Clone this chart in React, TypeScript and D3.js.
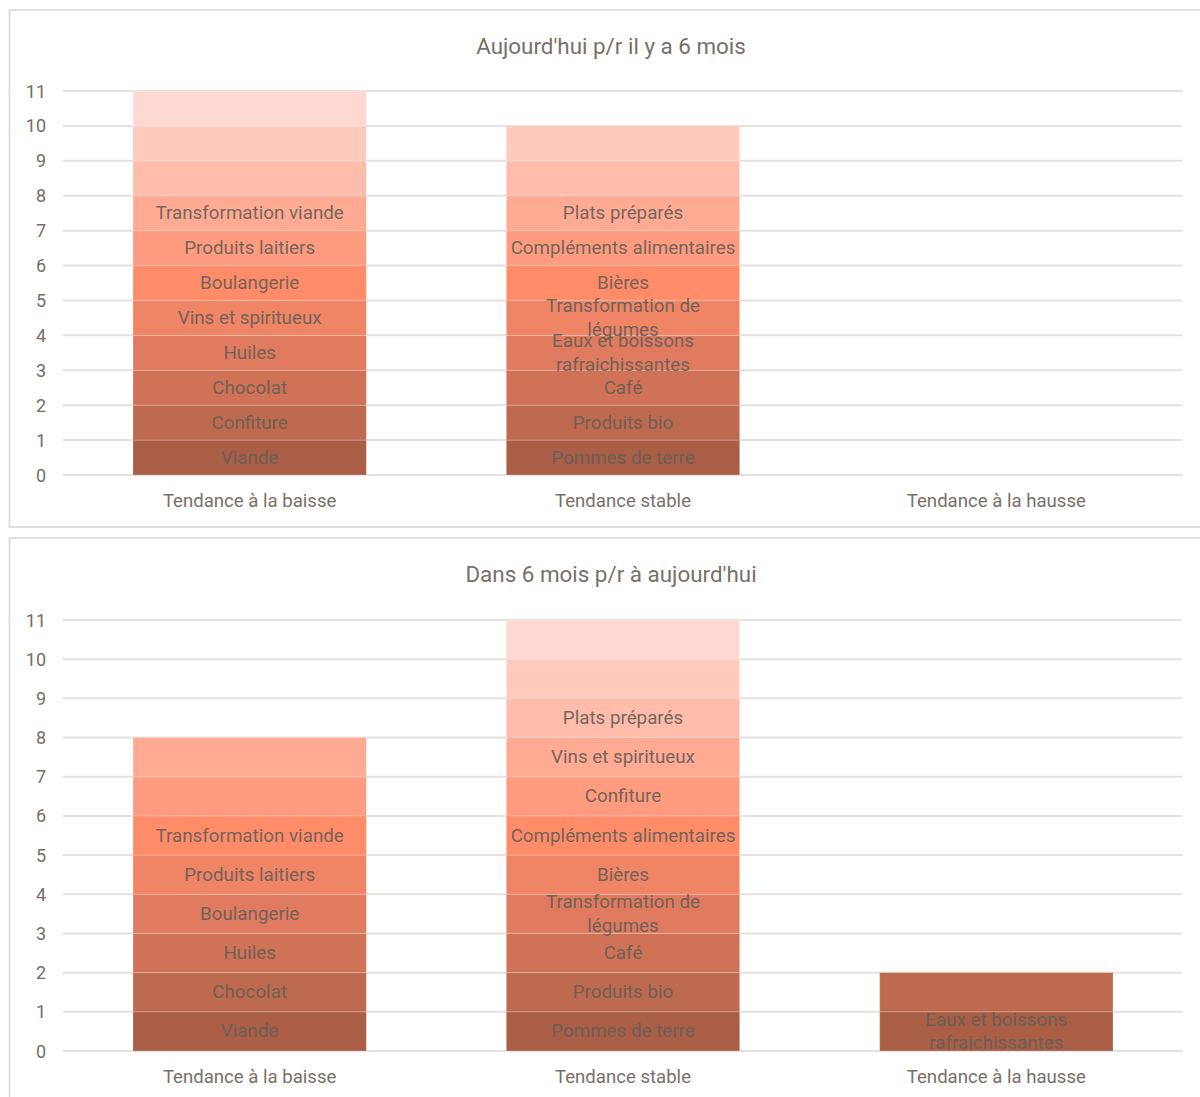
import React, { useEffect, useRef } from 'react';
import * as d3 from 'd3';

const WIDTH = 1200;
const HEIGHT = 1097;
const FONT = 'Roboto, "Noto Sans", sans-serif';

const categories = ['Tendance à la baisse', 'Tendance stable', 'Tendance à la hausse'];
const yTicks = [0, 1, 2, 3, 4, 5, 6, 7, 8, 9, 10, 11];

// each segment of a stack counts for 1; "" = segment without visible label
const nowBaisse = ['Viande', 'Confiture', 'Chocolat', 'Huiles', 'Vins et spiritueux', 'Boulangerie', 'Produits laitiers', 'Transformation viande', '', '', ''];
const nowStable = ['Pommes de terre', 'Produits bio', 'Café', 'Eaux et boissons rafraichissantes', 'Transformation de légumes', 'Bières', 'Compléments alimentaires', 'Plats préparés', '', ''];
const nowHausse: string[] = [];

const laterBaisse = ['Viande', 'Chocolat', 'Huiles', 'Boulangerie', 'Produits laitiers', 'Transformation viande', '', ''];
const laterStable = ['Pommes de terre', 'Produits bio', 'Café', 'Transformation de légumes', 'Bières', 'Compléments alimentaires', 'Confiture', 'Vins et spiritueux', 'Plats préparés', '', ''];
const laterHausse = ['Eaux et boissons rafraichissantes', ''];

const levelColors = [
  '#a95e45', '#be6a4e', '#d07256', '#e07b5f', '#ef8565', '#ff8c69',
  '#ff9b7e', '#ffab94', '#ffbcab', '#ffcbbf', '#ffd9d1',
];

const panels = [
  { title: "Aujourd'hui p/r il y a 6 mois", stacks: [nowBaisse, nowStable, nowHausse], top: 10, bottom: 527, y0: 475, y11: 91, titleY: 46, catY: 501 },
  { title: "Dans 6 mois p/r à aujourd'hui", stacks: [laterBaisse, laterStable, laterHausse], top: 538, bottom: 1120, y0: 1051, y11: 620, titleY: 574, catY: 1077 },
];

const LABEL_SIZE = 18.8;
const measureCtx = document.createElement('canvas').getContext('2d');

function wrap(text: string, maxWidth: number, font: string) {
  if (!measureCtx) return [text];
  measureCtx.font = font;
  const words = text.split(' ');
  const lines: string[] = [];
  let line = '';
  words.forEach(w => {
    const test = line ? line + ' ' + w : w;
    if (measureCtx.measureText(test).width > maxWidth && line) {
      lines.push(line);
      line = w;
    } else {
      line = test;
    }
  });
  if (line) lines.push(line);
  return lines;
}

const App = () => {
  const svgRef = useRef<SVGSVGElement | null>(null);

  useEffect(() => {
    if (!svgRef.current) return;
    const svg = d3.select(svgRef.current);
    svg.selectAll('*').remove();

    const x = d3.scaleBand<string>()
      .domain(categories)
      .range([63, 1183])
      .paddingInner(0.375)
      .paddingOuter(0.1875);

    const levelKeys = d3.range(levelColors.length).map(String);

    panels.forEach(p => {
      const g = svg.append('g');

      // panel frame
      g.append('rect')
        .attr('x', 9.5)
        .attr('y', p.top)
        .attr('width', 1230)
        .attr('height', p.bottom - p.top)
        .attr('fill', '#fff')
        .attr('stroke', '#e3dfdb')
        .attr('stroke-width', 2);

      g.append('text')
        .attr('x', 611)
        .attr('y', p.titleY)
        .attr('text-anchor', 'middle')
        .attr('dominant-baseline', 'central')
        .attr('fill', '#7a6f68')
        .attr('font-family', FONT)
        .attr('font-size', '22.4px')
        .text(p.title);

      const y = d3.scaleLinear().domain([0, 11]).range([p.y0, p.y11]);

      // grid
      g.selectAll('.grid')
        .data(yTicks)
        .enter()
        .append('line')
        .attr('x1', 63)
        .attr('x2', 1182)
        .attr('y1', d => y(d))
        .attr('y2', d => y(d))
        .attr('stroke', '#e6e1dd')
        .attr('stroke-width', 2);

      g.selectAll('.tick')
        .data(yTicks)
        .enter()
        .append('text')
        .attr('x', 46)
        .attr('y', d => y(d))
        .attr('text-anchor', 'end')
        .attr('dominant-baseline', 'central')
        .attr('fill', '#776d66')
        .attr('font-family', FONT)
        .attr('font-size', '18px')
        .text(d => d);

      // stacked data: one row per category, one key per level
      const rows = categories.map((c, i) => {
        const row: Record<string, number | string> = { cat: c };
        levelKeys.forEach((k, j) => { row[k] = j < p.stacks[i].length ? 1 : 0; });
        return row;
      });
      const series = d3.stack<Record<string, number | string>>().keys(levelKeys)(rows);

      const barGroup = g.append('g');
      const labelGroup = g.append('g');

      series.forEach((s, li) => {
        s.forEach((seg, ci) => {
          if (seg[1] - seg[0] <= 0) return;
          const cat = categories[ci];
          const bx = x(cat) || 0;
          const bw = x.bandwidth();
          barGroup.append('rect')
            .attr('x', bx)
            .attr('y', y(seg[1]))
            .attr('width', bw)
            .attr('height', y(seg[0]) - y(seg[1]))
            .attr('fill', levelColors[li])
            .attr('stroke', 'rgba(255,255,255,0.22)')
            .attr('stroke-width', 1);

          const label = p.stacks[ci][li];
          if (!label) return;
          const lines = wrap(label, bw - 7, `${LABEL_SIZE}px ${FONT}`);
          const cy = (y(seg[0]) + y(seg[1])) / 2;
          const lh = 23.5;
          const t = labelGroup.append('text')
            .attr('text-anchor', 'middle')
            .attr('fill', '#665e58')
            .attr('fill-opacity', 0.92)
            .attr('font-family', FONT)
            .attr('font-size', `${LABEL_SIZE}px`);
          lines.forEach((ln, k) => {
            t.append('tspan')
              .attr('x', bx + bw / 2)
              .attr('y', cy + (k - (lines.length - 1) / 2) * lh)
              .attr('dominant-baseline', 'central')
              .text(ln);
          });
        });
      });

      g.selectAll('.cat')
        .data(categories)
        .enter()
        .append('text')
        .attr('x', d => (x(d) || 0) + x.bandwidth() / 2)
        .attr('y', p.catY)
        .attr('text-anchor', 'middle')
        .attr('dominant-baseline', 'central')
        .attr('fill', '#7a6f68')
        .attr('font-family', FONT)
        .attr('font-size', '18.6px')
        .text(d => d);
    });
  }, []);

  return (
    <svg
      ref={svgRef}
      width={WIDTH}
      height={HEIGHT}
      style={{ position: 'absolute', left: 0, top: 0, background: '#fff' }}
    />
  );
};

export default App;
